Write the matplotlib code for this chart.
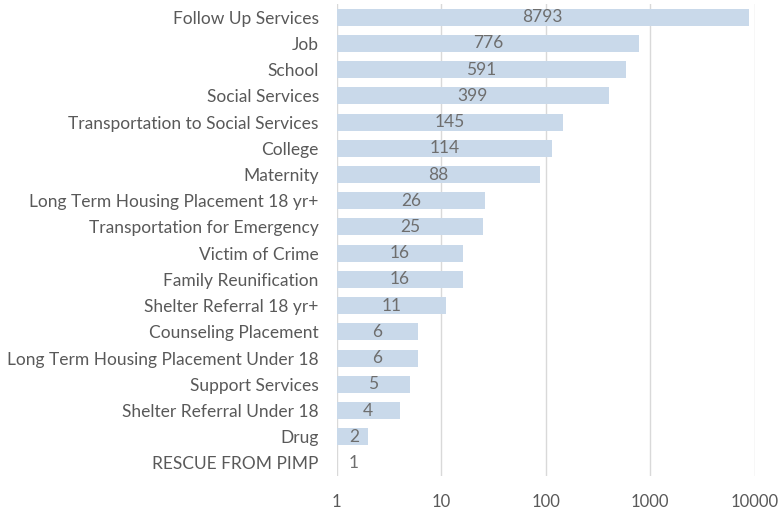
import numpy as np
import matplotlib.pyplot as plt

categories = [
    "Follow Up Services", "Job", "School", "Social Services",
    "Transportation to Social Services", "College", "Maternity",
    "Long Term Housing Placement 18 yr+", "Transportation for Emergency",
    "Victim of Crime", "Family Reunification", "Shelter Referral 18 yr+",
    "Counseling Placement", "Long Term Housing Placement Under 18",
    "Support Services", "Shelter Referral Under 18", "Drug", "RESCUE FROM PIMP",
]
counts = [8793, 776, 591, 399, 145, 114, 88, 26, 25, 16, 16, 11, 6, 6, 5, 4, 2, 1]
x_ticks = [1, 10, 100, 1000, 10000]

plt.rcParams['font.family'] = ['Lato', 'DejaVu Sans']

fig = plt.figure(figsize=(7.78, 5.13), dpi=100)
ax = fig.add_axes([0.433, 0.072, 0.537, 0.920])

y = np.arange(len(categories))
ax.barh(y, np.array(counts) - 1, left=1, height=0.65, color='#C9D9EA', zorder=2)

for yi, v in zip(y, counts):
    ax.text(max(np.sqrt(v), 1.45), yi, str(v), ha='center', va='center',
            fontsize=12.5, color='#6E6E6E', zorder=3)

ax.set_xscale('log')
ax.set_xlim(1, 10000)
ax.set_ylim(len(categories) - 0.5, -0.5)
ax.set_xticks(x_ticks)
ax.set_xticklabels([str(t) for t in x_ticks])
ax.minorticks_off()
ax.set_yticks(y)
ax.set_yticklabels(categories)

ax.tick_params(axis='both', length=0, colors='#595959')
ax.tick_params(axis='x', pad=13, labelsize=12)
ax.tick_params(axis='y', pad=13, labelsize=12.5)
ax.grid(axis='x', color='#D9D9D9', linewidth=1, zorder=0)
for s in ax.spines.values():
    s.set_visible(False)

fig.savefig('out.png', dpi=100)
